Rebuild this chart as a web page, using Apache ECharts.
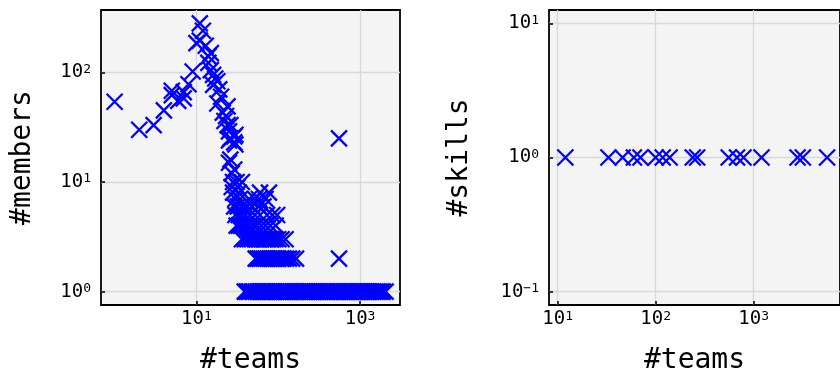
<!DOCTYPE html>
<html><head><meta charset="utf-8">
<script src="https://cdn.jsdelivr.net/npm/echarts@6/dist/echarts.min.js"></script>
<style>html,body{margin:0;padding:0;background:#fff}#c{width:840px;height:380px}</style>
</head><body><div id="c"></div>
<script>
// ---- data (left panel: #teams vs #members) ----
const membersTeams = [
  1,2,3,4,5,5,6,7,7,8,9,
  10,11,11,12,13,14,14,15,15,16,16,17,18,18,19,20,21,22,23,24,24,25,26,26,25,29,29,30,30,26,25,27,29,31,36,28,
  27,32,
  28,33,60,77,
  30,34,44,52,58,70,
  29,32,36,40,48,58,66,
  30,33,36,40,45,52,60,73,85,97,
  31,33,35,38,41,45,50,55,62,70,80,93,
  36,39,42,45,48,52,55,58,62,66,70,75,80,86,92,100,110,123,
  53,56,59,62,66,70,74,78,83,88,94,100,108,116,125,135,148,165,553,553,
  39,41,43,45,48,50,53,56,60,63,66,70,74,78,82,86,90,95,100,105,110,116,122,128,135,142,150,158,166,175,185,195,205,216,228,240,252,265,280,295,310,326,343,360,380,400,420,440,465,490,515,540,570,600,630,665,700,740,780,820,860,910,960,1010,1060,1120,1180,1240,1310,1380,1450,1530,1610,1700,1800,1900,2050
];
const membersCount = [
  54,30,33,45,62,68,55,58,66,78,102,
  185,280,195,240,175,140,122,150,105,95,77,88,83,52,70,60,43,36,40,49,33,29,33,25,24,26,23,27,22,16,15,12,13,10,10,10,
  9,9,
  8,8,8,8,
  7,7,7,7,7,7,
  6,6,6,6,6,6,6,
  5,5,5,5,5,5,5,5,5,5,
  4,4,4,4,4,4,4,4,4,4,4,4,
  3,3,3,3,3,3,3,3,3,3,3,3,3,3,3,3,3,3,
  2,2,2,2,2,2,2,2,2,2,2,2,2,2,2,2,2,2,2,25,
  1,1,1,1,1,1,1,1,1,1,1,1,1,1,1,1,1,1,1,1,1,1,1,1,1,1,1,1,1,1,1,1,1,1,1,1,1,1,1,1,1,1,1,1,1,1,1,1,1,1,1,1,1,1,1,1,1,1,1,1,1,1,1,1,1,1,1,1,1,1,1,1,1,1,1,1,1
];
// ---- data (right panel: #teams vs #skills) ----
const skillsTeams = [12,33,46,60,70,100,118,139,239,265,556,676,787,1202,2800,3170,5600];
const skillsCount = [1,1,1,1,1,1,1,1,1,1,1,1,1,1,1,1,1];
// ---- tick values ----
const leftXTicks = [10, 1000];
const leftYTicks = [1, 10, 100];
const rightXTicks = [10, 100, 1000, 10000];
const rightYTicks = [0.1, 1, 10];

const FONT = 'DejaVu Sans Mono';
function zip(a, b) { return a.map((v, i) => [v, b[i]]); }
function fmt(v) {
  const e = Math.round(Math.log10(v));
  const s = e < 0 ? '\u2212' + (-e) : String(e);
  return '{b|10}{s|' + s + '}';
}
const rich = {
  b: { fontFamily: FONT, fontSize: 19, lineHeight: 19, color: '#000', verticalAlign: 'bottom', padding: [5, 0, 0, 0] },
  s: { fontFamily: FONT, fontSize: 13, lineHeight: 13, color: '#000', verticalAlign: 'top' }
};
function axis(gridIndex, min, max, ticks, name, nameGap, margin) {
  return {
    type: 'log', logBase: 10, gridIndex, min, max,
    name, nameLocation: 'middle', nameGap,
    nameTextStyle: { fontFamily: FONT, fontSize: 28, color: '#000' },
    axisLine: { show: false },
    axisTick: { show: true, inside: true, length: 4, customValues: ticks, lineStyle: { color: '#000', width: 1.5 } },
    minorTick: { show: false },
    axisLabel: { customValues: ticks, margin, formatter: fmt, rich, fontFamily: FONT, fontSize: 19, color: '#000' },
    splitLine: { show: true, lineStyle: { color: '#d4dada', width: 1.3 } }
  };
}
const X_SYMBOL = 'path://M0 0L10 10M10 0L0 10';
const scatterStyle = { color: 'rgba(0,0,0,0)', borderColor: '#0000ff', borderWidth: 2.3, opacity: 1 };

const chart = echarts.init(document.getElementById('c'), null, { renderer: 'canvas' });
chart.setOption({
  animation: false,
  backgroundColor: '#ffffff',
  grid: [
    { left: 101, top: 10, width: 299, height: 295, show: true, backgroundColor: '#f4f4f4', borderColor: '#000', borderWidth: 1.8 },
    { left: 549, top: 10, width: 297, height: 295, show: true, backgroundColor: '#f4f4f4', borderColor: '#000', borderWidth: 1.8 }
  ],
  xAxis: [
    axis(0, 0.682, 3077, leftXTicks, '#teams', 42, 5),
    axis(1, 8.17, 7586, rightXTicks, '#teams', 42, 5)
  ],
  yAxis: [
    axis(0, 0.7546, 371, leftYTicks, '#members', 64, 10),
    axis(1, 0.0794, 12.59, rightYTicks, '#skills', 75, 10)
  ],
  series: [
    { type: 'scatter', xAxisIndex: 0, yAxisIndex: 0, data: zip(membersTeams, membersCount),
      symbol: X_SYMBOL, symbolSize: 16, itemStyle: scatterStyle, silent: true },
    { type: 'scatter', xAxisIndex: 1, yAxisIndex: 1, data: zip(skillsTeams, skillsCount),
      symbol: X_SYMBOL, symbolSize: 16, itemStyle: scatterStyle, silent: true }
  ]
});
</script></body></html>
